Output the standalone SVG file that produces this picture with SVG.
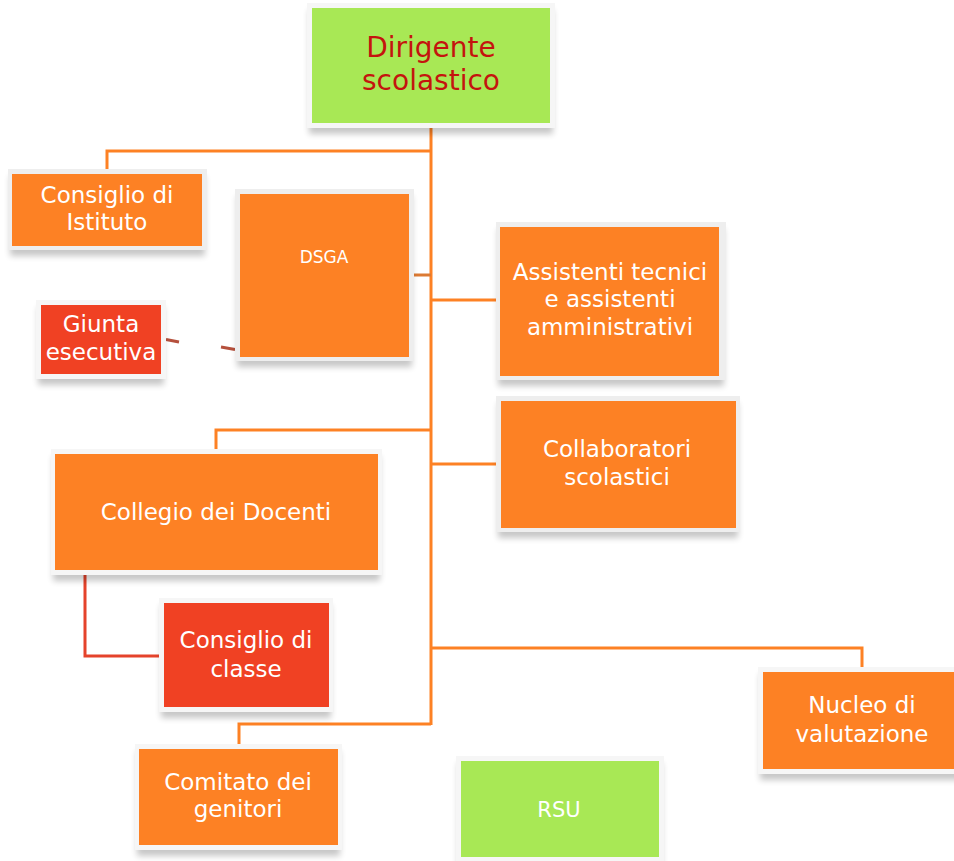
<svg xmlns="http://www.w3.org/2000/svg" width="954" height="861" viewBox="0 0 954 861">
<defs>
<filter id="sh" x="-20%" y="-20%" width="140%" height="160%">
<feGaussianBlur stdDeviation="3"/>
</filter>
<style>
.shadow{fill:#000;opacity:0.22;filter:url(#sh)}
.frame{fill:#eeeeee}
.or{fill:#fd8124}
.gr{fill:#a8e855}
.rd{fill:#f04123}
.t{font-family:"DejaVu Sans","Noto Sans",sans-serif;font-size:23px;fill:#ffffff;text-anchor:middle}
.big{font-size:28px;fill:#c4140e}
.sm{font-size:17px}
.c{fill:none;stroke:#fd8124;stroke-width:3}
.cr{fill:none;stroke:#e5432b;stroke-width:3}
.cd{fill:none;stroke:#b5503c;stroke-width:3}
</style>
</defs>
<rect width="954" height="861" fill="#ffffff"/>
<g id="connectors">
<path class="c" d="M431 128 V725"/>
<path class="c" d="M431 151 H107 V169"/>
<path class="c" d="M414 275 H431" style="stroke:#dc7a33"/>
<path class="c" d="M431 300 H496"/>
<path class="cd" d="M166 339.5 L179 342"/>
<path class="cd" d="M221 347 L235 349.5"/>
<path class="c" d="M431 430 H216 V449"/>
<path class="c" d="M431 464 H496"/>
<path class="cr" d="M85 575 V656 H159"/>
<path class="c" d="M431 648 H862 V667"/>
<path class="c" d="M431 724 H239 V744"/>
</g>
<g id="dirigente">
<rect class="shadow" x="309" y="10" width="244" height="124"/>
<rect class="frame" x="307" y="3" width="248" height="125" style="fill:#f6f6f6"/>
<rect class="gr" x="312" y="8" width="238" height="115"/>
<text class="t big"><tspan x="431" y="57">Dirigente</tspan><tspan x="431" y="90">scolastico</tspan></text>
</g>
<g id="consiglio-istituto">
<rect class="shadow" x="10" y="176" width="195" height="80"/>
<rect class="frame" x="8" y="169" width="199" height="81"/>
<rect class="or" x="12" y="174" width="190" height="72"/>
<text class="t"><tspan x="107" y="203">Consiglio di</tspan><tspan x="107" y="230">Istituto</tspan></text>
</g>
<g id="dsga">
<rect class="shadow" x="237" y="196" width="175" height="171"/>
<rect class="frame" x="235" y="189" width="179" height="172"/>
<rect class="or" x="240" y="194" width="169" height="163"/>
<text class="t sm" x="324" y="263">DSGA</text>
</g>
<g id="giunta">
<rect class="shadow" x="38" y="307" width="126" height="78"/>
<rect class="frame" x="36" y="300" width="130" height="79" style="fill:#f6f6f6"/>
<rect class="rd" x="41" y="305" width="120" height="69"/>
<text class="t"><tspan x="101" y="332">Giunta</tspan><tspan x="101" y="360">esecutiva</tspan></text>
</g>
<g id="assistenti">
<rect class="shadow" x="498" y="229" width="226" height="157"/>
<rect class="frame" x="496" y="222" width="230" height="158"/>
<rect class="or" x="500" y="227" width="219" height="149"/>
<text class="t"><tspan x="610" y="280">Assistenti tecnici</tspan><tspan x="610" y="307">e assistenti</tspan><tspan x="610" y="335">amministrativi</tspan></text>
</g>
<g id="collaboratori">
<rect class="shadow" x="498" y="403" width="240" height="135"/>
<rect class="frame" x="496" y="396" width="244" height="136"/>
<rect class="or" x="501" y="401" width="235" height="127"/>
<text class="t"><tspan x="617" y="457">Collaboratori</tspan><tspan x="617" y="485">scolastici</tspan></text>
</g>
<g id="collegio">
<rect class="shadow" x="53" y="456" width="327" height="125"/>
<rect class="frame" x="51" y="449" width="331" height="126" style="fill:#f6f6f6"/>
<rect class="or" x="55" y="454" width="323" height="116"/>
<text class="t" x="216" y="520">Collegio dei Docenti</text>
</g>
<g id="consiglio-classe">
<rect class="shadow" x="161" y="605" width="170" height="113"/>
<rect class="frame" x="159" y="598" width="174" height="114" style="fill:#f6f6f6"/>
<rect class="rd" x="164" y="603" width="165" height="104"/>
<text class="t"><tspan x="246" y="648">Consiglio di</tspan><tspan x="246" y="677">classe</tspan></text>
</g>
<g id="comitato">
<rect class="shadow" x="137" y="751" width="203" height="105"/>
<rect class="frame" x="135" y="744" width="207" height="106" style="fill:#f6f6f6"/>
<rect class="or" x="139" y="749" width="199" height="96"/>
<text class="t"><tspan x="238" y="790">Comitato dei</tspan><tspan x="238" y="817">genitori</tspan></text>
</g>
<g id="rsu">
<rect class="shadow" x="458" y="763" width="204" height="105"/>
<rect class="frame" x="456" y="756" width="208" height="110" style="fill:#f6f6f6"/>
<rect class="gr" x="461" y="761" width="198" height="96"/>
<text class="t" x="559" y="817" style="font-size:21px">RSU</text>
</g>
<g id="nucleo">
<rect class="shadow" x="760" y="674" width="206" height="106"/>
<rect class="frame" x="758" y="667" width="210" height="107" style="fill:#f6f6f6"/>
<rect class="or" x="763" y="672" width="200" height="97"/>
<text class="t"><tspan x="862" y="713">Nucleo di</tspan><tspan x="862" y="742">valutazione</tspan></text>
</g>
</svg>
